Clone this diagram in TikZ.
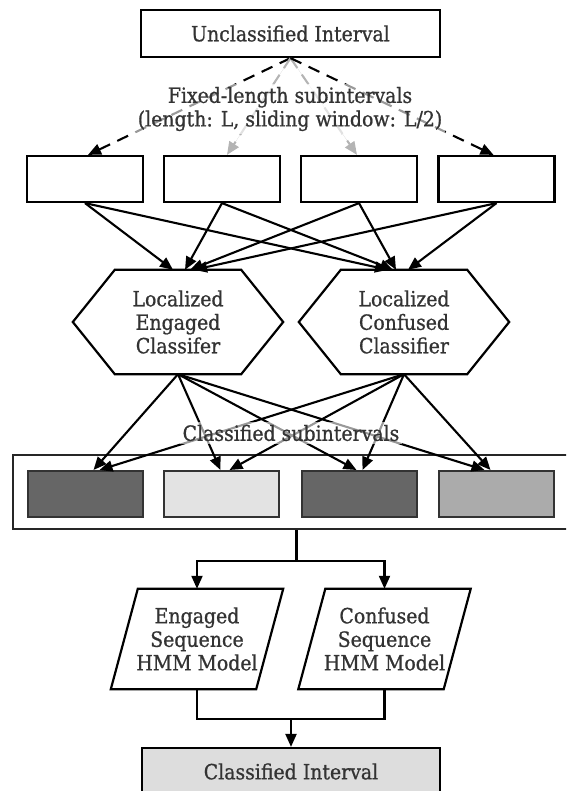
\documentclass[tikz,border=0pt]{standalone}
\usepackage{fontspec}
\setmainfont{DejaVu Serif Condensed}
\newfontfamily\diagfont{DejaVu Serif Condensed}[FakeBold=0.8]
\usetikzlibrary{arrows.meta}

\definecolor{txt}{HTML}{333333}
\definecolor{darkfill}{HTML}{666666}
\definecolor{lightfill}{HTML}{E3E3E3}
\definecolor{midfill}{HTML}{ABABAB}
\definecolor{endfill}{HTML}{DDDDDD}
\definecolor{fadedash}{HTML}{B4B4B4}

\tikzset{
  plainbox/.style={draw=black, line width=2.2pt, inner sep=0pt, text=txt},
  subbox/.style={plainbox, minimum width=116pt, minimum height=46pt},
  classbox/.style={draw=black!80, line width=2pt, minimum width=115pt, minimum height=46pt, inner sep=0pt},
  frame/.style={minimum width=210pt, minimum height=104pt, inner sep=0pt, align=center, text=txt},
  slantframe/.style={minimum width=172pt, minimum height=100pt, inner sep=0pt, align=center, text=txt},
  outline/.style={draw=black, line width=2.2pt, line join=miter},
  arr/.style={-{Triangle[length=13pt,width=11pt]}, line width=2.1pt},
  dasharr/.style={arr, dash pattern=on 12pt off 8pt},
  lbl/.style={fill=white, fill opacity=0.6, text opacity=1, text=txt, align=center, inner sep=3pt},
}

\begin{document}
\begin{tikzpicture}[x=1pt, y=-1pt, font=\diagfont\fontsize{21}{23.5}\selectfont]
\clip (0,0) rectangle (566,791);

% input interval
\node[plainbox, minimum width=299pt, minimum height=47pt] (top) at (290.5,33.5) {Unclassified Interval};

% fixed-length subintervals
\node[subbox] (s1) at (85,179) {};
\node[subbox] (s2) at (222,179) {};
\node[subbox] (s3) at (359,179) {};
\node[subbox] (s4) at (496.5,179) {};

\draw[dasharr] (top.south) -- ([xshift=3pt]s1.north);
\draw[dasharr, draw=fadedash, fill=fadedash] (top.south) -- ([xshift=5pt]s2.north);
\draw[dasharr, draw=fadedash, fill=fadedash] (top.south) -- ([xshift=-2pt]s3.north);
\draw[dasharr] (top.south) -- ([xshift=-3pt]s4.north);

% localized classifiers
\node[frame] (eng) at (178,322) {Localized\\Engaged\\Classifer};
\node[frame] (con) at (404,322) {Localized\\Confused\\Classifier};
\foreach \h in {eng,con}{
  \draw[outline] (\h.west) -- ([xshift=42pt]\h.north west) -- ([xshift=-42pt]\h.north east)
    -- (\h.east) -- ([xshift=-42pt]\h.south east) -- ([xshift=42pt]\h.south west) -- cycle;
}

\draw[arr] (s1.south) -- ([xshift=-5pt]eng.north);
\draw[arr] (s2.south) -- ([xshift=7pt]eng.north);
\draw[arr] (s3.south) -- ([xshift=12pt]eng.north);
\draw[arr] (s4.south) -- ([xshift=16pt]eng.north);
\draw[arr] (s1.south) -- ([xshift=-16pt]con.north);
\draw[arr] (s2.south) -- ([xshift=-11pt]con.north);
\draw[arr] (s3.south) -- ([xshift=-8pt]con.north);
\draw[arr] (s4.south) -- ([xshift=4pt]con.north);

% classified subintervals
\node[draw=black!85, line width=2pt, minimum width=567pt, minimum height=74pt, inner sep=0pt] (cont) at (296.5,492) {};
\node[classbox, fill=darkfill] (c1) at (85.5,494) {};
\node[classbox, fill=lightfill] (c2) at (221.5,494) {};
\node[classbox, fill=darkfill] (c3) at (359.5,494) {};
\node[classbox, fill=midfill] (c4) at (496.5,494) {};

\draw[arr] (eng.south) -- ([xshift=8pt]c1.north);
\draw[arr] (eng.south) -- ([xshift=-1pt]c2.north);
\draw[arr] (eng.south) -- ([xshift=-3pt]c3.north);
\draw[arr] (eng.south) -- ([xshift=-12pt]c4.north);
\draw[arr] (con.south) -- ([xshift=14pt]c1.north);
\draw[arr] (con.south) -- ([xshift=8pt]c2.north);
\draw[arr] (con.south) -- ([xshift=3pt]c3.north);
\draw[arr] (con.south) -- ([xshift=-6pt]c4.north);

% labels sit over the connectors
\node[lbl] (fixlbl) at (290,109) {Fixed-length subintervals\\(length: L, sliding window: L/2)};
\node[lbl] (clslbl) at (291,433) {Classified subintervals};

% sequence models
\node[slantframe] (eseq) at (197,639) {Engaged\\Sequence\\HMM Model};
\node[slantframe] (cseq) at (384.5,639) {Confused\\Sequence\\HMM Model};
\foreach \p in {eseq,cseq}{
  \draw[outline] (\p.south west) -- ([xshift=-27pt]\p.south east) -- (\p.north east)
    -- ([xshift=27pt]\p.north west) -- cycle;
}

\coordinate (fork) at (296.5,561);
\draw[line width=2.1pt] (cont.south) -- (fork);
\draw[arr] (fork) -| (eseq.north);
\draw[arr] (fork) -| (cseq.north);

% final decision
\node[plainbox, fill=endfill, minimum width=298pt, minimum height=47pt] (final) at (291,771.5) {Classified Interval};

\coordinate (join) at (291,719);
\draw[line width=2.1pt] (eseq.south) -- (eseq.south |- join) -- (cseq.south |- join) -- (cseq.south);
\draw[arr] (join) -- (final.north);
\end{tikzpicture}
\end{document}
